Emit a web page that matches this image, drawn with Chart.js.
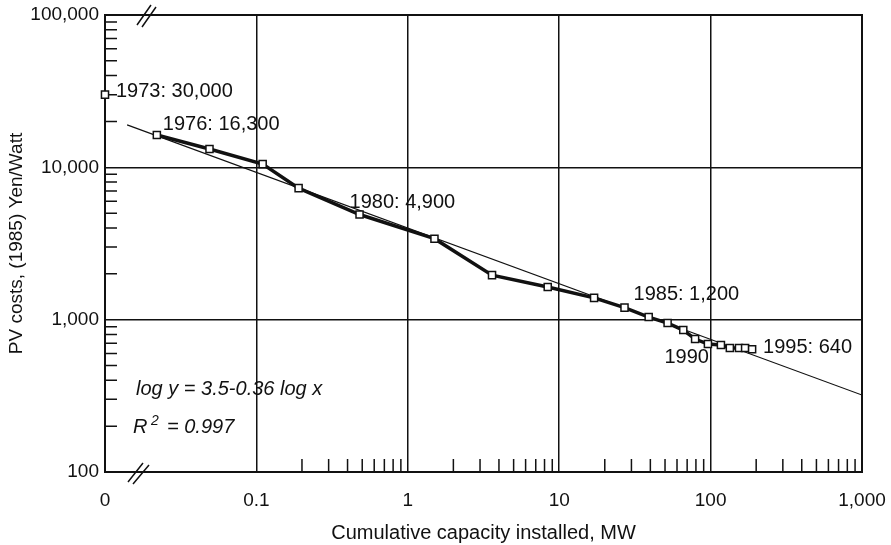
<!DOCTYPE html>
<html>
<head>
<meta charset="utf-8">
<title>PV costs vs cumulative capacity</title>
<script src="https://cdn.jsdelivr.net/npm/chart.js@4.4.1/dist/chart.umd.min.js"></script>
<style>
  html, body { margin: 0; padding: 0; background: #fff; }
  #wrap { width: 891px; height: 545px; }
</style>
</head>
<body>
<div id="wrap"><canvas id="pvChart"></canvas></div>
<script>
const years = [1973, 1976, 1977, 1978, 1979, 1980, 1981, 1982, 1983, 1984, 1985,
               1986, 1987, 1988, 1989, 1990, 1991, 1992, 1993, 1994, 1995];
const capacityMW = [0.01, 0.022, 0.049, 0.11, 0.19, 0.48, 1.5, 3.6, 8.4, 17, 27,
                    39, 52, 66, 79, 96, 117, 134, 154, 169, 188];
const costYenPerW = [30000, 16300, 13200, 10500, 7300, 4900, 3400, 1960, 1640, 1390, 1200,
                     1040, 950, 855, 746, 692, 681, 651, 651, 651, 640];

// regression line as drawn (end points)
const fitCapacity = [0.014, 1000];
const fitCost = [19000, 320];

const xTickValues = [0.01, 0.1, 1, 10, 100, 1000];
const xTickLabels = ['0', '0.1', '1', '10', '100', '1,000'];
const yTickValues = [100, 1000, 10000, 100000];
const yTickLabels = ['100', '1,000', '10,000', '100,000'];

const labelYears = [1973, 1976, 1980, 1985, 1990, 1995];
const labelTexts = ['1973: 30,000', '1976: 16,300', '1980: 4,900', '1985: 1,200', '1990', '1995: 640'];

const FONT = '"Liberation Sans", Arial, Helvetica, sans-serif';

const points = years.map((yr, i) => ({ x: capacityMW[i], y: costYenPerW[i] }));
const fitPoints = fitCapacity.map((c, i) => ({ x: c, y: fitCost[i] }));

// label placement relative to its point
const labelStyle = {
  1973: { dx: 11, dy: -3, align: 'left' },
  1976: { dx: 6, dy: -11, align: 'left' },
  1980: { dx: -10, dy: -12, align: 'left' },
  1985: { dx: 9, dy: -13, align: 'left' },
  1990: { dx: 1, dy: 13, align: 'right' },
  1995: { dx: 11, dy: -2, align: 'left' }
};

const frame = {
  id: 'frame',
  beforeDatasetsDraw(chart) {
    const { ctx, chartArea: a, scales } = chart;
    ctx.save();
    ctx.strokeStyle = '#111';
    ctx.lineWidth = 1.5;
    // minor ticks, inside the axes
    ctx.beginPath();
    for (let d = 100; d < 100000; d *= 10) {
      for (let k = 2; k <= 9; k++) {
        const py = scales.y.getPixelForValue(k * d);
        ctx.moveTo(a.left, py);
        ctx.lineTo(a.left + 12, py);
      }
    }
    for (let d = 0.1; d < 999; d *= 10) {
      for (let k = 2; k <= 9; k++) {
        const px = scales.x.getPixelForValue(k * d);
        ctx.moveTo(px, a.bottom);
        ctx.lineTo(px, a.bottom - 13);
      }
    }
    ctx.stroke();
    ctx.lineWidth = 2;
    ctx.strokeRect(a.left, a.top, a.right - a.left, a.bottom - a.top);
    ctx.restore();
  },
  afterDraw(chart) {
    const { ctx, chartArea: a, scales } = chart;
    ctx.save();
    ctx.strokeStyle = '#111';
    ctx.lineWidth = 1.5;
    // axis break marks
    ctx.beginPath();
    ctx.moveTo(a.left + 32, a.top + 10); ctx.lineTo(a.left + 46, a.top - 10);
    ctx.moveTo(a.left + 37, a.top + 12); ctx.lineTo(a.left + 51, a.top - 8);
    ctx.moveTo(a.left + 23, a.bottom + 10); ctx.lineTo(a.left + 38, a.bottom - 9);
    ctx.moveTo(a.left + 28, a.bottom + 12); ctx.lineTo(a.left + 44, a.bottom - 7);
    ctx.stroke();

    ctx.fillStyle = '#111';
    ctx.font = '20px ' + FONT;
    ctx.textBaseline = 'middle';
    labelYears.forEach((yr, i) => {
      const idx = years.indexOf(yr);
      const s = labelStyle[yr];
      const px = scales.x.getPixelForValue(capacityMW[idx]);
      const py = scales.y.getPixelForValue(costYenPerW[idx]);
      ctx.textAlign = s.align;
      ctx.fillText(labelTexts[i], px + s.dx, py + s.dy);
    });

    // regression note
    ctx.textAlign = 'left';
    ctx.textBaseline = 'alphabetic';
    ctx.font = 'italic 20px ' + FONT;
    ctx.fillText('log y = 3.5-0.36 log x', a.left + 31, a.top + 380);
    ctx.fillText('R', a.left + 28, a.top + 418);
    ctx.font = 'italic 14px ' + FONT;
    ctx.fillText('2', a.left + 46, a.top + 410);
    ctx.font = 'italic 20px ' + FONT;
    ctx.fillText('= 0.997', a.left + 62, a.top + 418);
    ctx.restore();
  }
};

new Chart(document.getElementById('pvChart'), {
  type: 'scatter',
  plugins: [frame],
  data: {
    datasets: [{
      label: 'PV cost',
      data: points.slice(1),
      showLine: true,
      borderColor: '#111',
      borderWidth: 3.5,
      pointStyle: 'rect',
      pointRadius: 5,
      pointBorderWidth: 1.5,
      pointBorderColor: '#111',
      pointBackgroundColor: '#fff'
    }, {
      label: '1973',
      data: points.slice(0, 1),
      showLine: false,
      clip: false,
      pointStyle: 'rect',
      pointRadius: 5,
      pointBorderWidth: 1.5,
      pointBorderColor: '#111',
      pointBackgroundColor: '#fff'
    }, {
      label: 'fit',
      data: fitPoints,
      showLine: true,
      borderColor: '#111',
      borderWidth: 1.2,
      pointRadius: 0
    }]
  },
  options: {
    responsive: true,
    maintainAspectRatio: false,
    animation: false,
    layout: { padding: { top: 15, right: 29, left: 0, bottom: 0 } },
    plugins: { legend: { display: false }, tooltip: { enabled: false } },
    scales: {
      x: {
        type: 'logarithmic',
        min: 0.01,
        max: 1000,
        afterBuildTicks: s => { s.ticks = xTickValues.map(v => ({ value: v })); },
        afterFit: s => { s.height = 73; s.paddingLeft = 0; s.paddingRight = 0; },
        ticks: {
          autoSkip: false,
          maxRotation: 0,
          padding: 17,
          color: '#111',
          font: { family: FONT, size: 19 },
          callback: v => xTickLabels[xTickValues.indexOf(v)]
        },
        grid: { color: '#111', lineWidth: 1.5, drawTicks: false },
        border: { display: false },
        title: {
          display: true,
          text: 'Cumulative capacity installed, MW',
          color: '#111',
          font: { family: FONT, size: 20 },
          padding: { top: 0, bottom: 0 }
        }
      },
      y: {
        type: 'logarithmic',
        min: 100,
        max: 100000,
        afterBuildTicks: s => { s.ticks = yTickValues.map(v => ({ value: v })); },
        afterFit: s => { s.width = 105; s.paddingTop = 0; s.paddingBottom = 0; },
        ticks: {
          autoSkip: false,
          padding: 6,
          color: '#111',
          font: { family: FONT, size: 19 },
          callback: v => yTickLabels[yTickValues.indexOf(v)]
        },
        grid: { color: '#111', lineWidth: 1.5, drawTicks: false },
        border: { display: false },
        title: {
          display: true,
          text: 'PV costs, (1985) Yen/Watt',
          color: '#111',
          font: { family: FONT, size: 19 },
          padding: { top: 5, bottom: 0 }
        }
      }
    }
  }
});
</script>
</body>
</html>
